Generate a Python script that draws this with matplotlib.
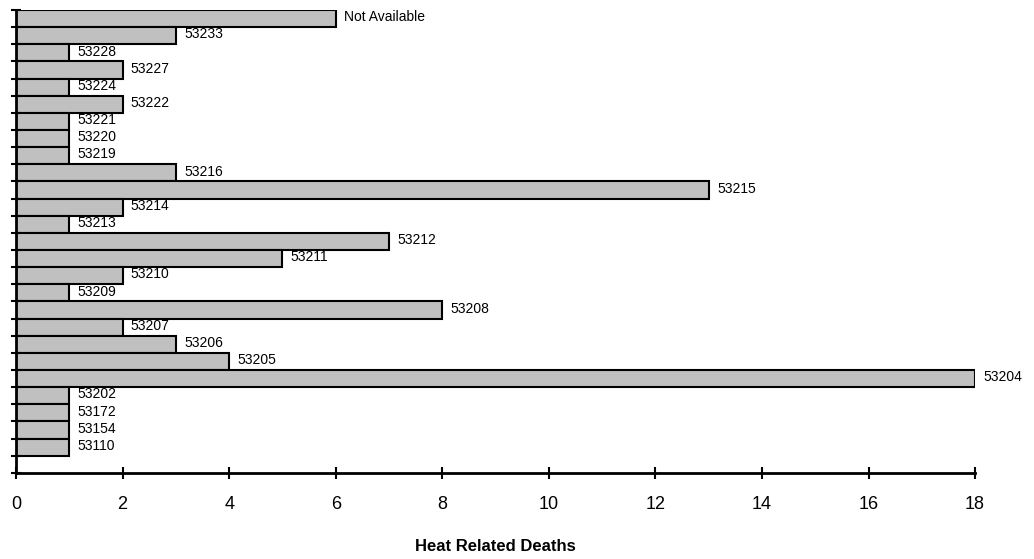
import matplotlib.pyplot as plt
import numpy as np

plt.rcParams['font.family'] = ['Liberation Sans', 'DejaVu Sans']

# zip codes, top to bottom as drawn
zips = ['Not Available', '53233', '53228', '53227', '53224', '53222', '53221',
        '53220', '53219', '53216', '53215', '53214', '53213', '53212', '53211',
        '53210', '53209', '53208', '53207', '53206', '53205', '53204', '53202',
        '53172', '53154', '53110']
deaths = [6, 3, 1, 2, 1, 2, 1, 1, 1, 3, 13, 2, 1, 7, 5, 2, 1, 8, 2, 3, 4, 18,
          1, 1, 1, 1]
xticks = [0, 2, 4, 6, 8, 10, 12, 14, 16, 18]

n = len(zips)
pos = np.arange(n)[::-1]  # top bar gets highest position

fig = plt.figure(figsize=(10.34, 5.59), dpi=100)
ax = fig.add_axes([0.0155, 0.154, 0.9275, 0.828])

ax.barh(pos, deaths, height=1.0, color='#c0c0c0', edgecolor='black', linewidth=1.5)
for p, v, z in zip(pos, deaths, zips):
    ax.annotate(z, (v, p), xytext=(6, 1), textcoords='offset points',
                va='center', ha='left', fontsize=10)

ax.set_xlim(0, 18)
ax.set_ylim(-1.5, n - 0.5)
ax.set_xticks(xticks)
ax.set_yticks(np.arange(-1.5, n, 1.0))
ax.set_yticklabels([])
ax.tick_params(axis='x', direction='inout', length=9, width=1.5, labelsize=13, pad=12)
ax.tick_params(axis='y', direction='inout', length=7, width=1.5)
for s in ['top', 'right']:
    ax.spines[s].set_visible(False)
for s in ['left', 'bottom']:
    ax.spines[s].set_linewidth(2)

ax.set_xlabel('Heat Related Deaths', fontsize=12, fontweight='bold', labelpad=19)

fig.savefig('out.png', dpi=100)
